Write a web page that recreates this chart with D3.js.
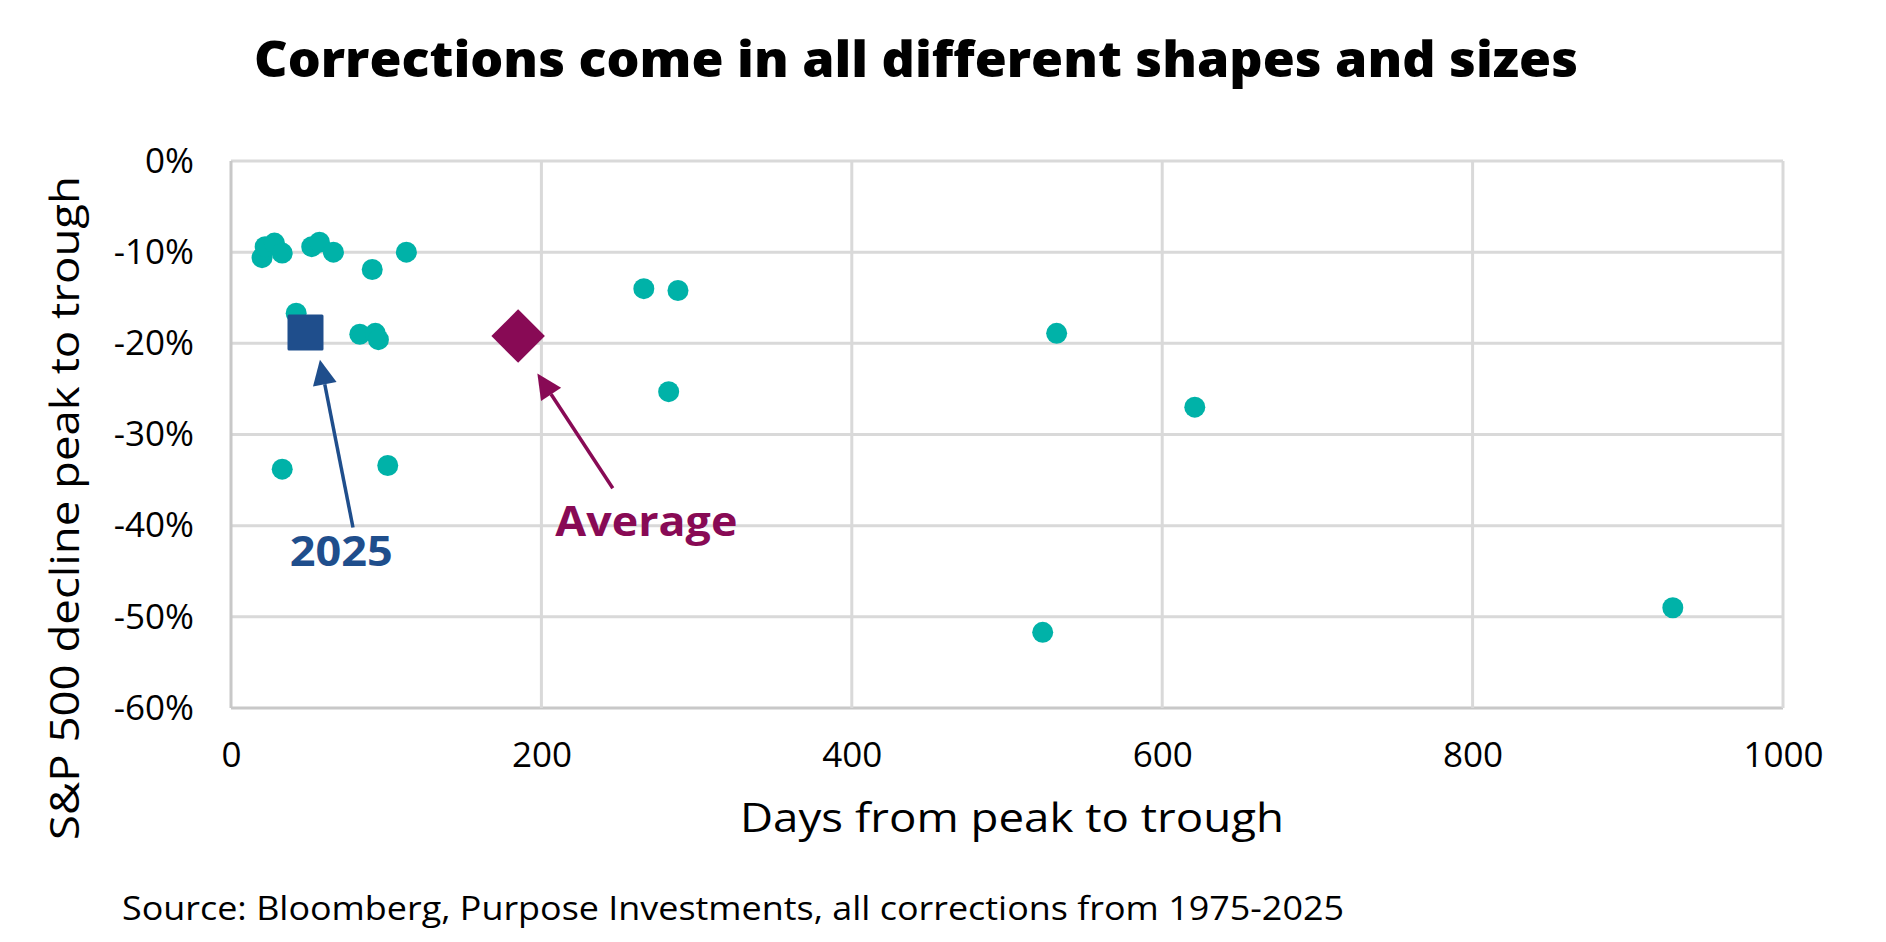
<!DOCTYPE html>
<html>
<head>
<meta charset="utf-8">
<script src="https://cdn.jsdelivr.net/npm/d3@7"></script>
<style>
  html, body { margin: 0; padding: 0; background: #fff; }
  svg { display: block; font-family: "Open Sans", "Noto Sans", sans-serif; }
</style>
</head>
<body>
<svg id="chart" width="1886" height="942"></svg>
<script>
// Corrections scatter: days peak->trough vs S&P 500 decline

// historical corrections (days, % decline)
const days    = [20, 22, 28, 33, 52, 57, 66, 91, 113, 42, 83, 93, 95, 33, 101, 266, 288, 282, 532, 621, 523, 929];
const decline = [-10.6, -9.4, -9.0, -10.1, -9.4, -8.9, -10.0, -11.9, -10.0, -16.7, -19.0, -18.9, -19.6, -33.8, -33.4, -14.0, -14.2, -25.3, -18.9, -27.0, -51.7, -49.0];

// highlighted points
const current = {label: "2025", days: 48, decline: -18.8};
const average = {label: "Average", days: 185, decline: -19.2};

// annotation arrows, in data units: [days, decline] tail -> tip
const arrow2025 = [[78.6, -40.2], [57.3, -21.8]];
const arrowAvg  = [[246, -35.9], [197.4, -23.3]];
const label2025 = [71, -44.4];
const labelAvg  = [209, -41.1];

const xTicks = [0, 200, 400, 600, 800, 1000];
const yTicks = [0, -10, -20, -30, -40, -50, -60];

const title = "Corrections come in all different shapes and sizes";
const xTitle = "Days from peak to trough";
const yTitle = "S&P 500 decline peak to trough";
const source = "Source: Bloomberg, Purpose Investments, all corrections from 1975-2025";

const colTeal = "#00b2a8";
const colBlue = "#1f4e8c";
const colMaroon = "#880a55";
const colGrid = "#d9d9d9";

const svg = d3.select("#chart");

// plot area
const x = d3.scaleLinear().domain([0, 1000]).range([231, 1783]);
const y = d3.scaleLinear().domain([-60, 0]).range([708, 161]);

// gridlines
svg.append("g").selectAll("line").data(yTicks).join("line")
  .attr("x1", x(0)).attr("x2", x(1000))
  .attr("y1", d => y(d)).attr("y2", d => y(d))
  .attr("stroke", d => d === -60 ? "#c8c8c8" : colGrid).attr("stroke-width", 3);
svg.append("g").selectAll("line").data(xTicks).join("line")
  .attr("x1", d => x(d)).attr("x2", d => x(d))
  .attr("y1", y(0)).attr("y2", y(-60))
  .attr("stroke", d => d === 0 ? "#c8c8c8" : colGrid).attr("stroke-width", 3);

// axes (labels only)
const yAxis = svg.append("g").attr("transform", `translate(${x(0)},0)`)
  .call(d3.axisLeft(y).tickValues(yTicks).tickFormat(d => d + "%").tickSize(0).tickPadding(37));
const xAxis = svg.append("g").attr("transform", `translate(0,${y(-60)})`)
  .call(d3.axisBottom(x).tickValues(xTicks).tickFormat(d => String(d)).tickSize(0).tickPadding(34));
[yAxis, xAxis].forEach(a => {
  a.select(".domain").remove();
  a.selectAll("text").attr("font-family", "'Open Sans', sans-serif").attr("font-size", 35).attr("fill", "#000");
});

// scatter points
const pts = days.map((d, i) => ({days: d, decline: decline[i]}));
svg.append("g").selectAll("circle").data(pts).join("circle")
  .attr("cx", d => x(d.days)).attr("cy", d => y(d.decline))
  .attr("r", 10.5).attr("fill", colTeal);

// 2025 square
svg.append("rect")
  .attr("x", x(current.days) - 18).attr("y", y(current.decline) - 18)
  .attr("width", 36).attr("height", 36).attr("rx", 1.5)
  .attr("fill", colBlue);

// average diamond
svg.append("path")
  .attr("d", d3.symbol().type(d3.symbolSquare).size(1430)())
  .attr("transform", `translate(${x(average.days)},${y(average.decline)}) rotate(45)`)
  .attr("fill", colMaroon);

// arrows
function drawArrow(pts, color) {
  const [x0, y0] = [x(pts[0][0]), y(pts[0][1])];
  const [x1, y1] = [x(pts[1][0]), y(pts[1][1])];
  const ang = Math.atan2(y1 - y0, x1 - x0);
  const hl = 25, hw = 12;
  const bx = x1 - hl * Math.cos(ang), by = y1 - hl * Math.sin(ang);
  svg.append("line").attr("x1", x0).attr("y1", y0).attr("x2", bx).attr("y2", by)
    .attr("stroke", color).attr("stroke-width", 3.5);
  const px = -Math.sin(ang) * hw, py = Math.cos(ang) * hw;
  svg.append("path")
    .attr("d", `M${x1},${y1}L${bx + px},${by + py}L${bx - px},${by - py}Z`)
    .attr("fill", color);
}
drawArrow(arrow2025, colBlue);
drawArrow(arrowAvg, colMaroon);

// annotation labels
svg.append("text").attr("x", x(label2025[0])).attr("y", y(label2025[1]))
  .attr("text-anchor", "middle").attr("font-size", 42).attr("font-weight", 700)
  .attr("fill", colBlue).attr("textLength", 103).attr("lengthAdjust", "spacingAndGlyphs")
  .text(current.label);
svg.append("text").attr("x", x(labelAvg[0])).attr("y", y(labelAvg[1]))
  .attr("font-size", 42).attr("font-weight", 700)
  .attr("fill", colMaroon).attr("textLength", 182).attr("lengthAdjust", "spacingAndGlyphs")
  .text(average.label);

// titles
svg.append("text").attr("x", 254).attr("y", 77)
  .attr("font-size", 50).attr("font-weight", 800).attr("fill", "#000")
  .attr("textLength", 1324).attr("lengthAdjust", "spacingAndGlyphs")
  .text(title);

svg.append("text").attr("x", 1012).attr("y", 832).attr("text-anchor", "middle")
  .attr("font-size", 40).attr("fill", "#000")
  .attr("textLength", 544).attr("lengthAdjust", "spacingAndGlyphs")
  .text(xTitle);

svg.append("text").attr("transform", "translate(79,508) rotate(-90)").attr("text-anchor", "middle")
  .attr("font-size", 40).attr("fill", "#000")
  .attr("textLength", 664).attr("lengthAdjust", "spacingAndGlyphs")
  .text(yTitle);

svg.append("text").attr("x", 122).attr("y", 920)
  .attr("font-size", 33).attr("fill", "#000")
  .attr("textLength", 1222).attr("lengthAdjust", "spacingAndGlyphs")
  .text(source);
</script>
</body>
</html>
